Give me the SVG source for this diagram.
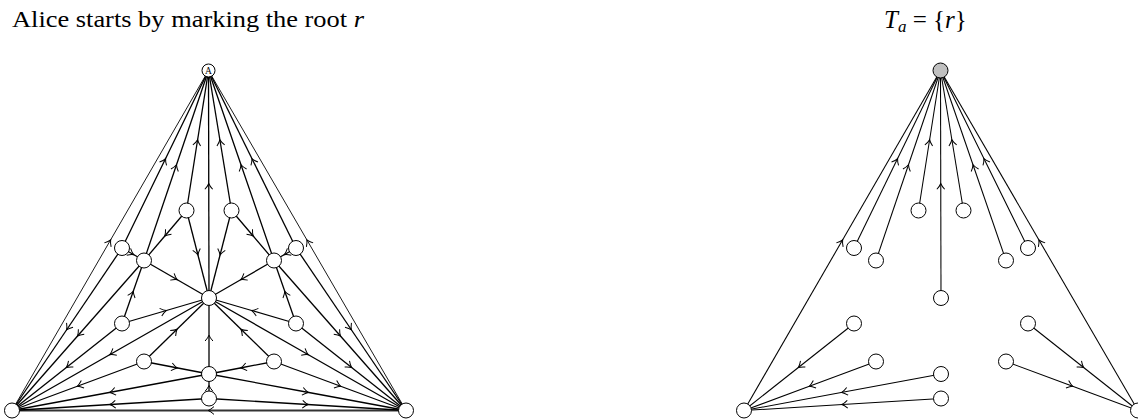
<svg xmlns="http://www.w3.org/2000/svg" width="1138" height="419" viewBox="0 0 1138 419">
<style>
.e{stroke:#000;stroke-width:1.3;fill:none;marker-mid:url(#arr)}
.o{stroke-width:0.9}
.b{stroke:#333;stroke-width:1.8}
.r{stroke-width:1.05}
.n{fill:#fff;stroke:#000;stroke-width:1}
.root{fill:#c0c0c0;stroke:#000;stroke-width:1}
.t{font-family:"Liberation Serif","DejaVu Serif",serif;fill:#000}
</style>
<defs>
<marker id="arr" markerUnits="userSpaceOnUse" markerWidth="12" markerHeight="12" viewBox="-6 -6 12 12" refX="0" refY="0" orient="auto" overflow="visible">
<path d="M-5,-3.9 Q-1.8,-1 0.8,0 Q-1.8,1 -5,3.9" fill="none" stroke="#000" stroke-width="1"/>
</marker>
</defs>
<text class="t" x="12" y="27" font-size="23" textLength="352" lengthAdjust="spacingAndGlyphs">Alice starts by marking the root <tspan font-style="italic">r</tspan></text>
<text class="t" x="884" y="28" font-size="25"><tspan font-style="italic">T</tspan><tspan font-style="italic" font-size="17" dy="4">a</tspan><tspan dy="-4"> = {</tspan><tspan font-style="italic">r</tspan>}</text>
<g id="connectors-left">
<path class="e o" d="M12,410.5 L110.25,240.5 L208.5,70.5"/>
<path class="e o" d="M406,410.5 L307.25,240.5 L208.5,70.5"/>
<path class="e b" d="M406,410.5 L209,410.5 L12,410.5"/>
<path class="e" d="M122,248 L165.25,159.25 L208.5,70.5"/>
<path class="e" d="M144,260.5 L176.25,165.5 L208.5,70.5"/>
<path class="e" d="M186.5,210.5 L197.5,140.5 L208.5,70.5"/>
<path class="e" d="M209,298 L208.75,184.25 L208.5,70.5"/>
<path class="e" d="M231.5,210.5 L220,140.5 L208.5,70.5"/>
<path class="e" d="M274,260.5 L241.25,165.5 L208.5,70.5"/>
<path class="e" d="M296,248 L252.25,159.25 L208.5,70.5"/>
<path class="e" d="M122,248 L67,329.25 L12,410.5"/>
<path class="e" d="M144,260.5 L78,335.5 L12,410.5"/>
<path class="e" d="M209,298 L110.5,354.25 L12,410.5"/>
<path class="e" d="M122,323.5 L67,367 L12,410.5"/>
<path class="e" d="M144,361.5 L78,386 L12,410.5"/>
<path class="e" d="M209,374 L110.5,392.25 L12,410.5"/>
<path class="e" d="M209,398.5 L110.5,404.5 L12,410.5"/>
<path class="e" d="M296,248 L351,329.25 L406,410.5"/>
<path class="e" d="M274,260.5 L340,335.5 L406,410.5"/>
<path class="e" d="M209,298 L307.5,354.25 L406,410.5"/>
<path class="e" d="M296,323.5 L351,367 L406,410.5"/>
<path class="e" d="M274,361.5 L340,386 L406,410.5"/>
<path class="e" d="M209,374 L307.5,392.25 L406,410.5"/>
<path class="e" d="M209,398.5 L307.5,404.5 L406,410.5"/>
<path class="e" d="M186.5,210.5 L165.25,235.5 L144,260.5"/>
<path class="e" d="M186.5,210.5 L197.75,254.25 L209,298"/>
<path class="e" d="M231.5,210.5 L252.75,235.5 L274,260.5"/>
<path class="e" d="M231.5,210.5 L220.25,254.25 L209,298"/>
<path class="e" d="M122,248 L133,254.25 L144,260.5"/>
<path class="e" d="M296,248 L285,254.25 L274,260.5"/>
<path class="e" d="M144,260.5 L176.5,279.25 L209,298"/>
<path class="e" d="M122,323.5 L133,292 L144,260.5"/>
<path class="e" d="M274,260.5 L241.5,279.25 L209,298"/>
<path class="e" d="M296,323.5 L285,292 L274,260.5"/>
<path class="e" d="M122,323.5 L165.5,310.75 L209,298"/>
<path class="e" d="M296,323.5 L252.5,310.75 L209,298"/>
<path class="e" d="M144,361.5 L176.5,329.75 L209,298"/>
<path class="e" d="M274,361.5 L241.5,329.75 L209,298"/>
<path class="e" d="M209,374 L209,336 L209,298"/>
<path class="e" d="M144,361.5 L176.5,367.75 L209,374"/>
<path class="e" d="M274,361.5 L241.5,367.75 L209,374"/>
<path class="e" d="M209,398.5 L209,386.25 L209,374"/>
</g>
<g id="connectors-right">
<path class="e r" d="M744,410.5 L842.25,240.5 L940.5,70.5"/>
<path class="e r" d="M1138,410.5 L1039.25,240.5 L940.5,70.5"/>
<path class="e r" d="M854,248 L897.25,159.25 L940.5,70.5"/>
<path class="e r" d="M876,260.5 L908.25,165.5 L940.5,70.5"/>
<path class="e r" d="M918.5,210.5 L929.5,140.5 L940.5,70.5"/>
<path class="e r" d="M941,298 L940.75,184.25 L940.5,70.5"/>
<path class="e r" d="M963.5,210.5 L952,140.5 L940.5,70.5"/>
<path class="e r" d="M1006,260.5 L973.25,165.5 L940.5,70.5"/>
<path class="e r" d="M1028,248 L984.25,159.25 L940.5,70.5"/>
<path class="e r" d="M854,323.5 L799,367 L744,410.5"/>
<path class="e r" d="M876,361.5 L810,386 L744,410.5"/>
<path class="e r" d="M941,374 L842.5,392.25 L744,410.5"/>
<path class="e r" d="M941,398.5 L842.5,404.5 L744,410.5"/>
<path class="e r" d="M1028,323.5 L1083,367 L1138,410.5"/>
<path class="e r" d="M1006,361.5 L1072,386 L1138,410.5"/>
</g>
<g id="node-A"><circle class="n" cx="208.5" cy="70.5" r="6.5"/><text class="t" x="208.5" y="74" font-size="9.5" text-anchor="middle">A</text></g>
<g id="node-L"><circle class="n" cx="12" cy="410.5" r="7.5"/></g>
<g id="node-R"><circle class="n" cx="406" cy="410.5" r="7.5"/></g>
<g id="node-u1"><circle class="n" cx="186.5" cy="210.5" r="7.5"/></g>
<g id="node-u2"><circle class="n" cx="231.5" cy="210.5" r="7.5"/></g>
<g id="node-a"><circle class="n" cx="122" cy="248" r="7.5"/></g>
<g id="node-b"><circle class="n" cx="144" cy="260.5" r="7.5"/></g>
<g id="node-c"><circle class="n" cx="296" cy="248" r="7.5"/></g>
<g id="node-d"><circle class="n" cx="274" cy="260.5" r="7.5"/></g>
<g id="node-C"><circle class="n" cx="209" cy="298" r="7.5"/></g>
<g id="node-e"><circle class="n" cx="122" cy="323.5" r="7.5"/></g>
<g id="node-f"><circle class="n" cx="296" cy="323.5" r="7.5"/></g>
<g id="node-g"><circle class="n" cx="144" cy="361.5" r="7.5"/></g>
<g id="node-h"><circle class="n" cx="274" cy="361.5" r="7.5"/></g>
<g id="node-m"><circle class="n" cx="209" cy="374" r="7.5"/></g>
<g id="node-n"><circle class="n" cx="209" cy="398.5" r="7.5"/></g>
<g id="node-r2"><circle class="root" cx="940.5" cy="70.5" r="7.5"/></g>
<g id="node-L2"><circle class="n" cx="744" cy="410.5" r="7.5"/></g>
<g id="node-R2"><circle class="n" cx="1138" cy="410.5" r="7.5"/></g>
<g id="node-u1-2"><circle class="n" cx="918.5" cy="210.5" r="7.5"/></g>
<g id="node-u2-2"><circle class="n" cx="963.5" cy="210.5" r="7.5"/></g>
<g id="node-a2"><circle class="n" cx="854" cy="248" r="7.5"/></g>
<g id="node-b2"><circle class="n" cx="876" cy="260.5" r="7.5"/></g>
<g id="node-c2"><circle class="n" cx="1028" cy="248" r="7.5"/></g>
<g id="node-d2"><circle class="n" cx="1006" cy="260.5" r="7.5"/></g>
<g id="node-C2"><circle class="n" cx="941" cy="298" r="7.5"/></g>
<g id="node-e2"><circle class="n" cx="854" cy="323.5" r="7.5"/></g>
<g id="node-f2"><circle class="n" cx="1028" cy="323.5" r="7.5"/></g>
<g id="node-g2"><circle class="n" cx="876" cy="361.5" r="7.5"/></g>
<g id="node-h2"><circle class="n" cx="1006" cy="361.5" r="7.5"/></g>
<g id="node-m2"><circle class="n" cx="941" cy="374" r="7.5"/></g>
<g id="node-n2"><circle class="n" cx="941" cy="398.5" r="7.5"/></g>
</svg>
